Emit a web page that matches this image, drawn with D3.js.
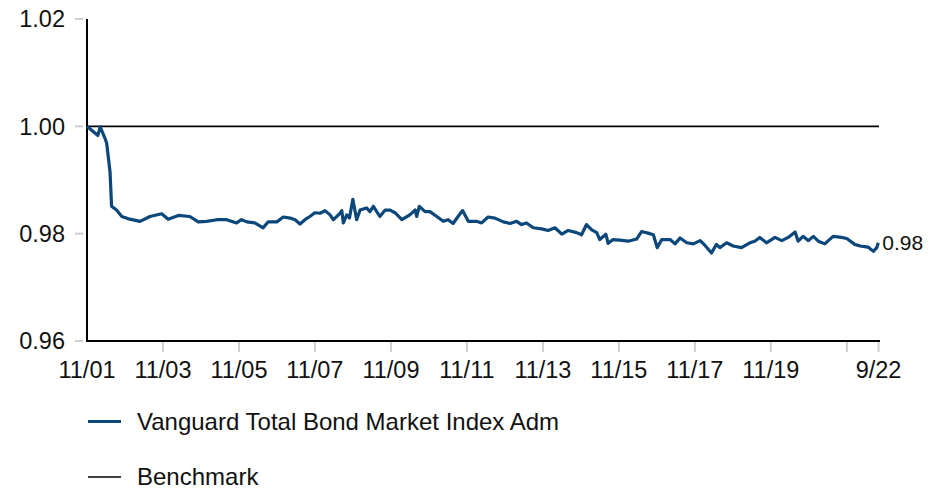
<!DOCTYPE html>
<html><head><meta charset="utf-8">
<script src="https://cdn.jsdelivr.net/npm/d3@7"></script>
<style>body{margin:0;background:#fff;}svg{display:block;font-family:"Liberation Sans",Arial,sans-serif;}</style>
</head><body>
<svg id="chart" width="949" height="491"></svg>
<script>
// Decimal-year dates of the fund's growth series
const fundDates = [2001.83,2002.12,2002.18,2002.31,2002.35,2002.44,2002.48,2002.61,2002.75,2002.96,
2003.23,2003.49,2003.80,2003.97,2004.24,2004.54,2004.76,2004.98,2005.25,2005.51,
2005.77,2005.90,2006.04,2006.25,2006.47,2006.60,2006.83,2007.00,2007.18,2007.31,
2007.44,2007.57,2007.70,2007.83,2007.97,2008.10,2008.23,2008.32,2008.49,2008.54,
2008.58,2008.67,2008.74,2008.83,2008.93,2009.02,2009.19,2009.28,2009.37,2009.54,
2009.68,2009.81,2009.94,2010.12,2010.33,2010.47,2010.51,2010.58,2010.73,2010.86,
2011.04,2011.21,2011.34,2011.47,2011.60,2011.72,2011.87,2012.09,2012.22,2012.39,
2012.57,2012.79,2012.97,2013.14,2013.27,2013.40,2013.58,2013.80,2013.97,2014.15,
2014.33,2014.50,2014.72,2014.85,2014.98,2015.12,2015.25,2015.33,2015.49,2015.55,
2015.68,2015.86,2016.08,2016.30,2016.43,2016.60,2016.74,2016.84,2016.96,2017.18,
2017.31,2017.44,2017.62,2017.79,2017.97,2018.10,2018.27,2018.40,2018.49,2018.67,
2018.84,2019.06,2019.28,2019.41,2019.54,2019.72,2019.94,2020.12,2020.29,2020.47,
2020.55,2020.68,2020.82,2020.95,2021.08,2021.25,2021.47,2021.69,2021.83,2022.04,
2022.18,2022.39,2022.53,2022.62,2022.66];
const fundValues = [1.0000,0.9983,0.9999,0.9977,0.9969,0.9915,0.9851,0.9844,0.9832,0.9827,
0.9823,0.9832,0.9837,0.9827,0.9834,0.9832,0.9822,0.9823,0.9826,0.9826,
0.9820,0.9826,0.9822,0.9820,0.9811,0.9822,0.9822,0.9831,0.9829,0.9826,
0.9818,0.9826,0.9832,0.9839,0.9838,0.9843,0.9835,0.9826,0.9838,0.9843,
0.9820,0.9835,0.9829,0.9864,0.9826,0.9844,0.9848,0.9841,0.9851,0.9832,
0.9844,0.9844,0.9839,0.9826,0.9835,0.9844,0.9832,0.9851,0.9841,0.9841,
0.9832,0.9823,0.9826,0.9819,0.9832,0.9843,0.9823,0.9823,0.9820,0.9831,
0.9829,0.9822,0.9819,0.9823,0.9817,0.9820,0.9811,0.9809,0.9806,0.9811,
0.9799,0.9806,0.9802,0.9798,0.9817,0.9807,0.9802,0.9789,0.9799,0.9782,
0.9789,0.9788,0.9786,0.9790,0.9804,0.9801,0.9798,0.9774,0.9789,0.9789,
0.9781,0.9792,0.9783,0.9781,0.9787,0.9778,0.9764,0.9780,0.9774,0.9783,
0.9777,0.9774,0.9783,0.9786,0.9793,0.9783,0.9793,0.9787,0.9793,0.9803,
0.9786,0.9795,0.9787,0.9795,0.9786,0.9781,0.9795,0.9793,0.9791,0.9780,
0.9777,0.9775,0.9767,0.9774,0.9783];
const benchmarkValue = 1.00;
const yTicks = [0.96, 0.98, 1.00, 1.02];
const xTickDates = ["2001-11-01","2003-11-01","2005-11-01","2007-11-01","2009-11-01","2011-11-01","2013-11-01","2015-11-01","2017-11-01","2019-11-01","2021-11-01","2022-09-01"];
const xTickLabels = ["11/01","11/03","11/05","11/07","11/09","11/11","11/13","11/15","11/17","11/19","","9/22"];
const seriesNames = ["Vanguard Total Bond Market Index Adm","Benchmark"];
const endLabel = "0.98";

function decToDate(d){
  const y = Math.floor(d);
  const start = new Date(y,0,1), end = new Date(y+1,0,1);
  return new Date(start.getTime() + (d-y)*(end-start));
}
const parse = d3.timeParse("%Y-%m-%d");
const data = fundDates.map((d,i)=>({date:decToDate(d), value:fundValues[i]}));

const svg = d3.select("#chart");
const x = d3.scaleTime().domain([parse("2001-11-01"), parse("2022-09-01")]).range([87, 878.5]);
const y = d3.scaleLinear().domain([0.96, 1.02]).range([341, 19]);

const textColor = "#111";
const tickColor = "#cfcfcf";

// y ticks + labels
const yAxis = svg.append("g");
yTicks.forEach(t=>{
  yAxis.append("line").attr("x1",75).attr("x2",83).attr("y1",y(t)).attr("y2",y(t))
    .attr("stroke",tickColor).attr("stroke-width",2);
  yAxis.append("text").attr("x",65).attr("y",y(t)).attr("dy","0.35em")
    .attr("text-anchor","end").attr("font-size",23.5).attr("fill",textColor).text(d3.format(".2f")(t));
});

// x ticks + labels
const xAxis = svg.append("g");
xTickDates.forEach((d,i)=>{
  const px = x(parse(d));
  if(i>0) xAxis.append("line").attr("x1",px).attr("x2",px).attr("y1",342).attr("y2",352)
    .attr("stroke",tickColor).attr("stroke-width",2);
  xAxis.append("text").attr("x",px).attr("y",378).attr("text-anchor","middle")
    .attr("font-size",23.5).attr("fill",textColor).text(xTickLabels[i]);
});

// axis lines
svg.append("line").attr("x1",87).attr("x2",87).attr("y1",19).attr("y2",342)
  .attr("stroke","#000").attr("stroke-width",2);
svg.append("line").attr("x1",86).attr("x2",880).attr("y1",341).attr("y2",341)
  .attr("stroke","#000").attr("stroke-width",2);

// benchmark
svg.append("line").attr("x1",87).attr("x2",879).attr("y1",y(benchmarkValue)).attr("y2",y(benchmarkValue))
  .attr("stroke","#000").attr("stroke-width",1.6);

// fund line
const line = d3.line().x(d=>x(d.date)).y(d=>y(d.value));
svg.append("path").datum(data).attr("d",line).attr("fill","none")
  .attr("stroke","#0b477a").attr("stroke-width",3.2).attr("stroke-linejoin","round");

// end label
const last = data[data.length-1];
svg.append("text").attr("x",x(last.date)+4).attr("y",y(last.value)).attr("dy","0.35em")
  .attr("font-size",21).attr("fill",textColor).text(endLabel);

// legend
const lg = svg.append("g");
lg.append("line").attr("x1",88).attr("x2",121).attr("y1",421.5).attr("y2",421.5).attr("stroke","#0b477a").attr("stroke-width",3.2);
lg.append("text").attr("x",137).attr("y",421.5).attr("dy","0.35em").attr("font-size",24).attr("fill",textColor).text(seriesNames[0]);
lg.append("line").attr("x1",88).attr("x2",121).attr("y1",477).attr("y2",477).attr("stroke","#000").attr("stroke-width",1.6);
lg.append("text").attr("x",137).attr("y",477).attr("dy","0.35em").attr("font-size",24).attr("fill",textColor).text(seriesNames[1]);
</script>
</body></html>
